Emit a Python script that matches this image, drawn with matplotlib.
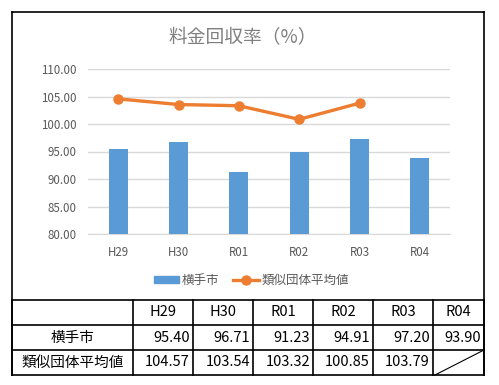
import matplotlib
matplotlib.use("Agg")
import matplotlib.pyplot as plt
from matplotlib.lines import Line2D
import numpy as np

plt.rcParams['font.family'] = ['Noto Sans CJK JP', 'DejaVu Sans']

categories = ["H29", "H30", "R01", "R02", "R03", "R04"]
city_values = [95.40, 96.71, 91.23, 94.91, 97.20, 93.90]
similar_values = [104.57, 103.54, 103.32, 100.85, 103.79, None]
yticks = [80, 85, 90, 95, 100, 105, 110]
series_names = ["横手市", "類似団体平均値"]
title = "料金回収率（%）"

W, H = 499, 385
fig = plt.figure(figsize=(W / 100, H / 100), dpi=100)

# overlay axes in pixel coords
ov = fig.add_axes([0, 0, 1, 1])
ov.set_xlim(0, W)
ov.set_ylim(H, 0)
ov.axis('off')

# main plot area
x0, x1, ytop, ybot = 88, 450, 69, 234
ax = fig.add_axes([x0 / W, (H - ybot) / H, (x1 - x0) / W, (ybot - ytop) / H])
x = np.arange(len(categories))
bars = ax.bar(x, city_values, width=0.31, color="#5B9BD5", zorder=3)
lx = [i for i, v in enumerate(similar_values) if v is not None]
ly = [v for v in similar_values if v is not None]
line, = ax.plot(lx, ly, color="#ED7D31", lw=2.4, marker='o', ms=6.5, zorder=4,
                solid_capstyle='round')
ax.set_xlim(-0.5, len(categories) - 0.5)
ax.set_ylim(80, 110)
ax.set_yticks(yticks)
ax.set_yticklabels([f"{t:.2f}" for t in yticks])
ax.set_xticks(x)
ax.set_xticklabels(categories)
ax.grid(axis='y', color="#D9D9D9", lw=1, zorder=0)
for s in ['top', 'right', 'left']:
    ax.spines[s].set_visible(False)
ax.spines['bottom'].set_color("#D9D9D9")
ax.tick_params(axis='both', length=0, colors="#595959", labelsize=8.3)
ax.tick_params(axis='x', pad=9)
ax.tick_params(axis='y', pad=8)
ax.set_facecolor('none')

# title
ov.text(243, 38, title, ha='center', va='center', fontsize=13.5, color="#7F7F7F")

# legend (manual)
ov.add_patch(plt.Rectangle((154, 276), 25, 7, color="#5B9BD5"))
ov.text(182, 280, series_names[0], ha='left', va='center', fontsize=9, color="#595959")
ov.add_line(Line2D([233, 259], [280, 280], color="#ED7D31", lw=2.4))
ov.plot([246], [280], 'o', color="#ED7D31", ms=6.5)
ov.text(262, 280, series_names[1], ha='left', va='center', fontsize=9, color="#595959")

# chart border
lc = 'black'
ov.add_line(Line2D([12, 484], [12, 12], color=lc, lw=1.2))
ov.add_line(Line2D([12, 12], [12, 375], color=lc, lw=1.2))
ov.add_line(Line2D([484, 484], [12, 375], color=lc, lw=1.2))

# table
col_x = [12, 133, 193, 253, 313, 373, 433, 484]
row_y = [300, 325, 350, 375]
for yy in row_y:
    ov.add_line(Line2D([12, 484], [yy, yy], color=lc, lw=1.2))
for xx in col_x:
    ov.add_line(Line2D([xx, xx], [300, 375], color=lc, lw=1.2))
tfs = 10.5
for i, c in enumerate(categories):
    ov.text((col_x[i + 1] + col_x[i + 2]) / 2, 312.5, c, ha='center', va='center',
            fontsize=tfs, color='black')
rows = [city_values, similar_values]
for r, (name, vals) in enumerate(zip(series_names, rows)):
    yc = (row_y[r + 1] + row_y[r + 2]) / 2
    ov.text((col_x[0] + col_x[1]) / 2, yc, name, ha='center', va='center',
            fontsize=tfs, color='black')
    for i, v in enumerate(vals):
        if v is None:
            ov.add_line(Line2D([col_x[i + 1] + 2, col_x[i + 2]], [row_y[r + 2], row_y[r + 1]],
                               color=lc, lw=0.8))
        else:
            ov.text(col_x[i + 2] - 3, yc, f"{v:.2f}", ha='right', va='center',
                    fontsize=tfs, color='black')

fig.savefig("out.png", dpi=100)
